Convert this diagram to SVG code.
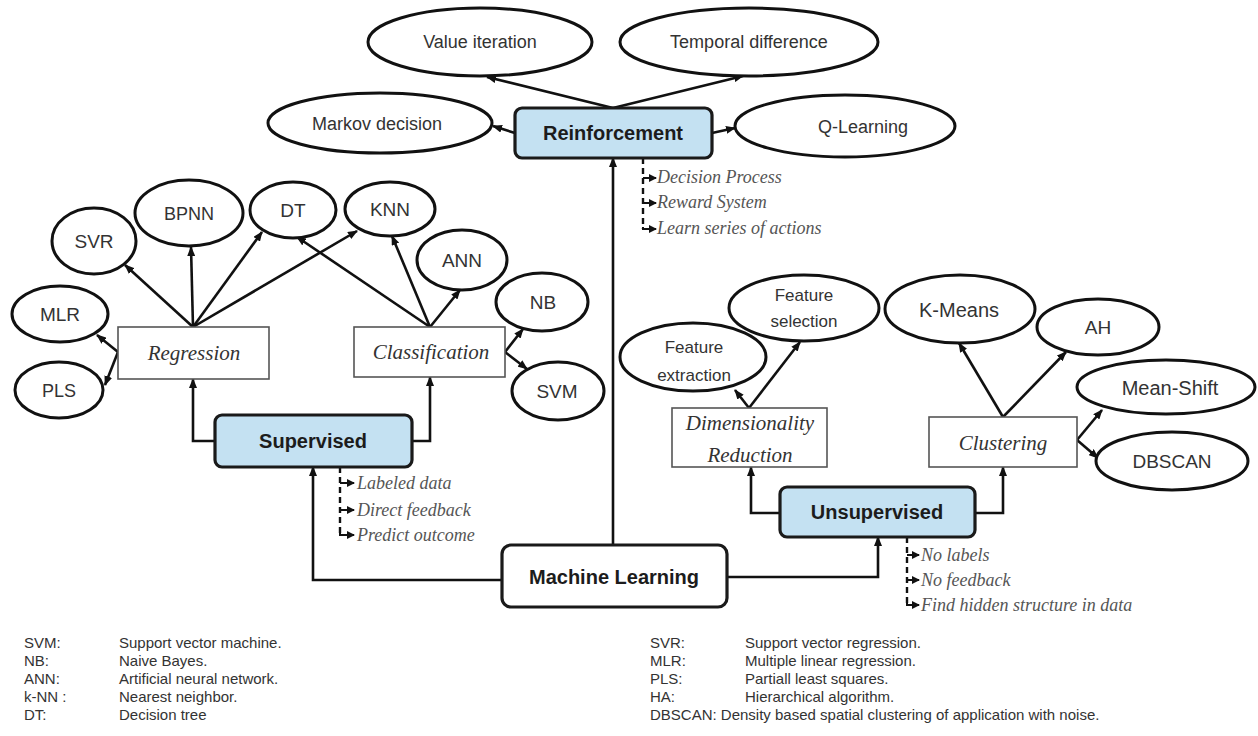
<svg xmlns="http://www.w3.org/2000/svg" width="1258" height="736" viewBox="0 0 1258 736">
<defs>
<marker id="ah" markerUnits="userSpaceOnUse" markerWidth="10" markerHeight="8" refX="9" refY="4" orient="auto">
<path d="M0,0 L10,4 L0,8 z" fill="#111"/>
</marker>
<marker id="sa" markerUnits="userSpaceOnUse" markerWidth="8" markerHeight="8" refX="7" refY="4" orient="auto">
<path d="M0,0 L8,4 L0,8 z" fill="#111"/>
</marker>
<style>
.el{fill:#fff;stroke:#111;stroke-width:3}
.bx{fill:#c4e1f2;stroke:#1a1a1a;stroke-width:3.2}
.mb{fill:#fff;stroke:#1a1a1a;stroke-width:3.2}
.sb{fill:#fff;stroke:#555;stroke-width:1.6}
.t{font-family:"Liberation Sans",Arial,sans-serif;fill:#333;text-anchor:middle}
.b{font-family:"Liberation Sans",Arial,sans-serif;font-weight:bold;font-size:20px;fill:#1c1c1c;text-anchor:middle}
.it{font-family:"Liberation Serif","Times New Roman",serif;font-style:italic;fill:#333;font-size:21px;text-anchor:middle}
.li{font-family:"Liberation Serif","Times New Roman",serif;font-style:italic;fill:#555;font-size:18px}
.lg{font-family:"Liberation Sans",Arial,sans-serif;fill:#333;font-size:15px}
.c{fill:none;stroke:#111;stroke-width:2.6;marker-end:url(#ah)}
.d{fill:none;stroke:#111;stroke-width:2.4;stroke-dasharray:6,4}
.s{fill:none;stroke:#111;stroke-width:2;marker-end:url(#sa)}
</style>
</defs>
<rect width="1258" height="736" fill="#fff"/>

<g id="connectors">
<path class="c" d="M613,108 L487,77"/>
<path class="c" d="M613,108 L743,76"/>
<path class="c" d="M515,133 L493,126"/>
<path class="c" d="M712,133 L735,128"/>
<path class="c" d="M613,545 L613,158"/>
<path class="c" d="M502,580 L313,580 L313,467"/>
<path class="c" d="M727,577 L878,577 L878,537"/>
<path class="c" d="M215,441 L193,441 L193,379"/>
<path class="c" d="M412,441 L430,441 L430,377"/>
<path class="c" d="M780,513 L751,513 L751,467"/>
<path class="c" d="M975,513 L1003,513 L1003,467"/>
<path class="c" d="M193,327 L125,265"/>
<path class="c" d="M193,327 L191,247"/>
<path class="c" d="M193,327 L262,232"/>
<path class="c" d="M193,327 L357,231"/>
<path class="c" d="M118,352 L97,335"/>
<path class="c" d="M118,352 L105,385"/>
<path class="c" d="M430,327 L297,237"/>
<path class="c" d="M430,327 L392,236"/>
<path class="c" d="M430,327 L460,290"/>
<path class="c" d="M505,352 L523,329"/>
<path class="c" d="M505,352 L527,369"/>
<path class="c" d="M749,408 L735,390"/>
<path class="c" d="M749,408 L800,342"/>
<path class="c" d="M1003,417 L959,343"/>
<path class="c" d="M1003,417 L1066,352"/>
<path class="c" d="M1077,440 L1102,410"/>
<path class="c" d="M1077,440 L1098,458"/>
<!-- bracket lists -->
<path class="d" d="M643,158 L643,229"/>
<path class="s" d="M643,178 L656,178"/>
<path class="s" d="M643,203 L656,203"/>
<path class="s" d="M643,227 L643,229 L656,229"/>
<path class="d" d="M340,467 L340,535"/>
<path class="s" d="M340,483 L354,483"/>
<path class="s" d="M340,510 L354,510"/>
<path class="s" d="M340,533 L340,535 L354,535"/>
<path class="d" d="M907,537 L907,605"/>
<path class="s" d="M907,555 L919,555"/>
<path class="s" d="M907,580 L919,580"/>
<path class="s" d="M907,603 L907,605 L919,605"/>
</g>

<g id="value-iteration"><ellipse class="el" cx="480" cy="42" rx="112" ry="34"/><text class="t" x="480" y="48" font-size="18">Value iteration</text></g>
<g id="temporal-difference"><ellipse class="el" cx="749" cy="42" rx="129" ry="34"/><text class="t" x="749" y="48" font-size="18">Temporal difference</text></g>
<g id="markov-decision"><ellipse class="el" cx="380" cy="123" rx="112" ry="30"/><text class="t" x="377" y="130" font-size="18">Markov decision</text></g>
<g id="q-learning"><ellipse class="el" cx="845" cy="126" rx="110" ry="31"/><text class="t" x="863" y="133" font-size="18">Q-Learning</text></g>

<g id="reinforcement"><rect class="bx" x="515" y="108" width="197" height="50" rx="7"/><text class="b" x="613" y="140">Reinforcement</text></g>
<g id="reinforcement-notes">
<text class="li" x="657" y="183">Decision Process</text>
<text class="li" x="657" y="208">Reward System</text>
<text class="li" x="657" y="234">Learn series of actions</text>
</g>

<g id="svr"><ellipse class="el" cx="94" cy="241" rx="42" ry="33"/><text class="t" x="94" y="248" font-size="19">SVR</text></g>
<g id="bpnn"><ellipse class="el" cx="189" cy="213" rx="54" ry="33"/><text class="t" x="189" y="220" font-size="18">BPNN</text></g>
<g id="dt"><ellipse class="el" cx="293" cy="210" rx="43" ry="28"/><text class="t" x="293" y="217" font-size="19">DT</text></g>
<g id="knn"><ellipse class="el" cx="390" cy="209" rx="45" ry="27"/><text class="t" x="390" y="216" font-size="19">KNN</text></g>
<g id="ann"><ellipse class="el" cx="462" cy="260" rx="45" ry="30"/><text class="t" x="462" y="267" font-size="19">ANN</text></g>
<g id="mlr"><ellipse class="el" cx="60" cy="314" rx="48" ry="28"/><text class="t" x="60" y="321" font-size="19">MLR</text></g>
<g id="pls"><ellipse class="el" cx="59" cy="390" rx="44" ry="28"/><text class="t" x="59" y="397" font-size="18">PLS</text></g>
<g id="nb"><ellipse class="el" cx="542" cy="302" rx="46" ry="29"/><text class="t" x="543" y="309" font-size="19">NB</text></g>
<g id="svm"><ellipse class="el" cx="558" cy="391" rx="46" ry="29"/><text class="t" x="557" y="398" font-size="19">SVM</text></g>

<g id="regression"><rect class="sb" x="118" y="327" width="151" height="52"/><text class="it" x="194" y="360">Regression</text></g>
<g id="classification"><rect class="sb" x="354" y="327" width="151" height="50"/><text class="it" x="431" y="359">Classification</text></g>

<g id="supervised"><rect class="bx" x="215" y="415" width="197" height="52" rx="7"/><text class="b" x="313" y="448">Supervised</text></g>
<g id="supervised-notes">
<text class="li" x="357" y="489">Labeled data</text>
<text class="li" x="357" y="516">Direct feedback</text>
<text class="li" x="357" y="541">Predict outcome</text>
</g>

<g id="machine-learning"><rect class="mb" x="502" y="545" width="225" height="62" rx="9"/><text class="b" x="614" y="584">Machine Learning</text></g>

<g id="feature-extraction"><ellipse class="el" cx="693" cy="357" rx="73" ry="34"/><text class="t" x="694" y="353" font-size="17">Feature</text><text class="t" x="694" y="381" font-size="17">extraction</text></g>
<g id="feature-selection"><ellipse class="el" cx="804" cy="308" rx="75" ry="33"/><text class="t" x="804" y="301" font-size="17">Feature</text><text class="t" x="804" y="327" font-size="17">selection</text></g>
<g id="k-means"><ellipse class="el" cx="960" cy="309" rx="75" ry="34"/><text class="t" x="959" y="317" font-size="20">K-Means</text></g>
<g id="ah"><ellipse class="el" cx="1098" cy="327" rx="61" ry="28"/><text class="t" x="1098" y="334" font-size="19">AH</text></g>
<g id="mean-shift"><ellipse class="el" cx="1166" cy="387" rx="89" ry="27"/><text class="t" x="1170" y="395" font-size="20">Mean-Shift</text></g>
<g id="dbscan"><ellipse class="el" cx="1172" cy="461" rx="76" ry="29"/><text class="t" x="1172" y="468" font-size="19">DBSCAN</text></g>

<g id="dimensionality-reduction"><rect class="sb" x="672" y="408" width="155" height="59"/><text class="it" x="750" y="430">Dimensionality</text><text class="it" x="750" y="462">Reduction</text></g>
<g id="clustering"><rect class="sb" x="929" y="417" width="148" height="50"/><text class="it" x="1003" y="450">Clustering</text></g>

<g id="unsupervised"><rect class="bx" x="780" y="487" width="195" height="50" rx="7"/><text class="b" x="877" y="519">Unsupervised</text></g>
<g id="unsupervised-notes">
<text class="li" x="921" y="561">No labels</text>
<text class="li" x="921" y="586">No feedback</text>
<text class="li" x="921" y="611">Find hidden structure in data</text>
</g>

<g id="legend-left" class="lg">
<text x="24" y="648">SVM:</text><text x="119" y="648">Support vector machine.</text>
<text x="24" y="666">NB:</text><text x="119" y="666">Naive Bayes.</text>
<text x="24" y="684">ANN:</text><text x="119" y="684">Artificial neural network.</text>
<text x="24" y="702">k-NN :</text><text x="119" y="702">Nearest neighbor.</text>
<text x="24" y="720">DT:</text><text x="119" y="720">Decision tree</text>
</g>
<g id="legend-right" class="lg">
<text x="650" y="648">SVR:</text><text x="745" y="648">Support vector regression.</text>
<text x="650" y="666">MLR:</text><text x="745" y="666">Multiple linear regression.</text>
<text x="650" y="684">PLS:</text><text x="745" y="684">Partiall least squares.</text>
<text x="650" y="702">HA:</text><text x="745" y="702">Hierarchical algorithm.</text>
<text x="650" y="720">DBSCAN: Density based spatial clustering of application with noise.</text>
</g>
</svg>
